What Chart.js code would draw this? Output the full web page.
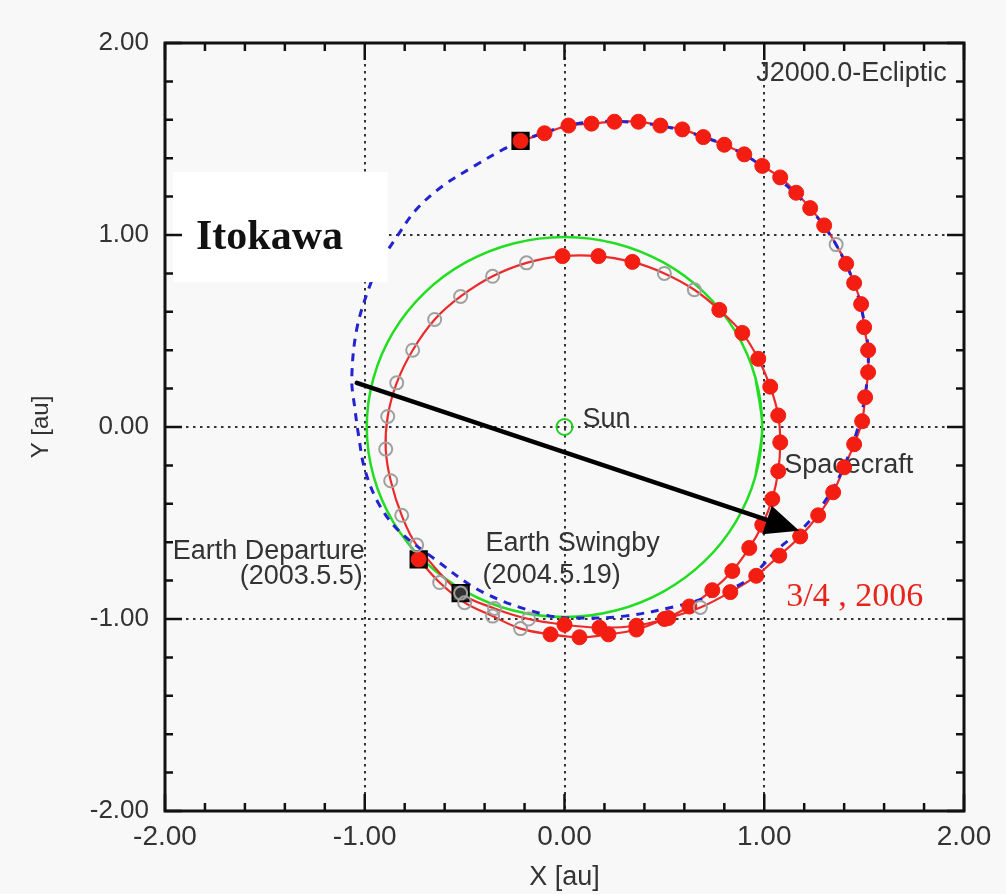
<!DOCTYPE html>
<html lang="en">
<head>
<meta charset="UTF-8">
<title>Itokawa transfer orbit</title>
<script src="https://cdn.jsdelivr.net/npm/chart.js@4.4.1/dist/chart.umd.min.js"></script>
<style>
  html, body { margin: 0; padding: 0; background: #f8f8f8; }
  #wrap { width: 1006px; height: 894px; }
</style>
</head>
<body>
<div id="wrap"><canvas id="orbitChart" width="1006" height="894"></canvas></div>
<script>
// spacecraft trajectory: departure -> 1st loop -> swingby -> 2nd loop -> Itokawa
const trajX = [
  -0.73, -0.625, -0.50, -0.36, -0.22, -0.07, 0.075, 0.22, 0.36, 0.50,
  0.625, 0.74, 0.84, 0.925, 0.99, 1.04, 1.07, 1.08, 1.07, 1.03,
  0.97, 0.89, 0.775, 0.65, 0.50, 0.34, 0.17, -0.01, -0.19, -0.36,
  -0.52, -0.65, -0.76, -0.84, -0.885, -0.895, -0.87, -0.815, -0.74, -0.52,
  -0.35, -0.18, 0.0, 0.175, 0.36, 0.52, 0.68, 0.83, 0.96, 1.075,
  1.18, 1.27, 1.345, 1.40, 1.45, 1.49, 1.505, 1.52, 1.52, 1.50,
  1.485, 1.45, 1.41, 1.36, 1.30, 1.23, 1.16, 1.08, 0.99, 0.90,
  0.80, 0.695, 0.59, 0.48, 0.37, 0.25, 0.135, 0.02, -0.10, -0.22
];
const trajY = [
  -0.69, -0.81, -0.915, -0.985, -1.05, -1.08, -1.095, -1.08, -1.055, -1.0,
  -0.935, -0.85, -0.75, -0.63, -0.51, -0.375, -0.23, -0.08, 0.06, 0.21,
  0.355, 0.49, 0.61, 0.715, 0.80, 0.86, 0.89, 0.89, 0.855, 0.785,
  0.68, 0.56, 0.40, 0.23, 0.055, -0.115, -0.28, -0.46, -0.615, -0.865,
  -0.945, -1.0, -1.03, -1.045, -1.035, -0.995, -0.94, -0.86, -0.775, -0.67,
  -0.57, -0.46, -0.34, -0.21, -0.09, 0.03, 0.155, 0.285, 0.40, 0.52,
  0.64, 0.75, 0.85, 0.95, 1.05, 1.14, 1.22, 1.30, 1.36, 1.42,
  1.47, 1.51, 1.55, 1.57, 1.59, 1.59, 1.58, 1.57, 1.53, 1.49
];
// 1 = filled red dot (thrusting), 0 = hollow grey dot
const trajThrust = [
  1, 0, 0, 0, 0, 1, 1, 1, 1, 1,
  1, 1, 1, 1, 1, 1, 1, 1, 1, 1,
  1, 1, 1, 0, 0, 1, 1, 1, 0, 0,
  0, 0, 0, 0, 0, 0, 0, 0, 0, 0,
  0, 0, 1, 1, 1, 1, 0, 1, 1, 1,
  1, 1, 1, 1, 1, 1, 1, 1, 1, 1,
  1, 1, 1, 0, 1, 1, 1, 1, 1, 1,
  1, 1, 1, 1, 1, 1, 1, 1, 1, 1
];

// Itokawa orbit (blue dashed)
const itoX = [
  -0.22, -0.30, -0.45, -0.61, -0.74, -0.84, -0.92, -0.975, -1.04, -1.065,
  -1.05, -1.03, -1.0, -0.93, -0.83, -0.66, -0.41, -0.09, 0.075, 0.30,
  0.575, 0.76, 0.91, 1.075, 1.17, 1.26, 1.35, 1.41, 1.47, 1.51,
  1.52, 1.49, 1.43, 1.33, 1.20, 1.05, 0.88, 0.70, 0.50, 0.30,
  0.10, -0.05, -0.22
];
const itoY = [
  1.49, 1.45, 1.36, 1.255, 1.135, 0.99, 0.86, 0.735, 0.51, 0.25,
  0.10, -0.05, -0.22, -0.40, -0.54, -0.68, -0.86, -0.98, -0.995, -0.985,
  -0.93, -0.87, -0.80, -0.63, -0.55, -0.45, -0.31, -0.18, 0.0, 0.2,
  0.4, 0.6, 0.8, 1.0, 1.17, 1.31, 1.43, 1.51, 1.565, 1.59,
  1.585, 1.55, 1.49
];

// Earth orbit (green), seam overlapped
const earthX = [0.956, 0.99, 0.956, 0.857, 0.70, 0.495, 0.256, 0, -0.256, -0.495, -0.70, -0.857, -0.956, -0.99,
  -0.956, -0.857, -0.70, -0.495, -0.256, 0, 0.256, 0.495, 0.70, 0.857, 0.956, 0.99, 0.956];
const earthY = [-0.256, 0, 0.256, 0.495, 0.70, 0.857, 0.956, 0.99, 0.956, 0.857, 0.70, 0.495, 0.256, 0,
  -0.256, -0.495, -0.70, -0.857, -0.956, -0.99, -0.956, -0.857, -0.70, -0.495, -0.256, 0, 0.256];

// Earth departure, Earth swingby, Itokawa arrival
const markerX = [-0.73, -0.52, -0.22];
const markerY = [-0.69, -0.865, 1.49];

const sunX = [0];
const sunY = [0];

// text notes (data coordinates)
const noteText = ['J2000.0-Ecliptic', 'Sun', 'Spacecraft', 'Earth Departure', '(2003.5.5)', 'Earth Swingby', '(2004.5.19)'];
const noteX = [0.96, 0.09, 1.10, -1.0, -1.01, -0.395, -0.41];
const noteY = [1.80, 0.0, -0.24, -0.6875, -0.82, -0.646, -0.8125];
const noteAlign = ['left', 'left', 'left', 'right', 'right', 'left', 'left'];

const arrowFrom = [-1.04, 0.23];
const arrowTo = [1.175, -0.54];

const toPoints = (xs, ys) => xs.map((v, i) => ({ x: v, y: ys[i] }));
const isMajor = v => Math.abs(v - Math.round(v)) < 1e-6;
const isInnerMajor = v => isMajor(v) && Math.abs(v) < 1.5;

const SANS = "'Liberation Sans', Arial, sans-serif";
const SERIF = "'Liberation Serif', 'Times New Roman', serif";
Chart.defaults.font.family = SANS;

const notesPlugin = {
    id: 'notes',
    beforeDatasetsDraw(chart) {
        const { ctx, scales: { x, y } } = chart;
        ctx.save();
        ctx.fillStyle = '#333';
        ctx.font = '27px ' + SANS;
        ctx.textBaseline = 'alphabetic';
        noteText.forEach((t, i) => {
            ctx.textAlign = noteAlign[i];
            ctx.fillText(t, x.getPixelForValue(noteX[i]), y.getPixelForValue(noteY[i]));
        });
        ctx.fillStyle = '#e8231c';
        ctx.font = '34px ' + SERIF;
        ctx.textAlign = 'left';
        ctx.fillText('3/4 , 2006', x.getPixelForValue(1.11), y.getPixelForValue(-0.93));
        ctx.restore();
    },
    afterDatasetsDraw(chart) {
        const { ctx, chartArea: a, scales: { x, y } } = chart;
        ctx.save();
        // white label box for Itokawa
        const bx0 = x.getPixelForValue(-1.96), bx1 = x.getPixelForValue(-0.885);
        const by0 = y.getPixelForValue(1.328), by1 = y.getPixelForValue(0.755);
        ctx.fillStyle = '#ffffff';
        ctx.fillRect(bx0, by0, bx1 - bx0, by1 - by0);
        ctx.fillStyle = '#111';
        ctx.font = 'bold 42px ' + SERIF;
        ctx.textAlign = 'left';
        ctx.fillText('Itokawa', x.getPixelForValue(-1.845), y.getPixelForValue(0.927));

        // arrow
        const x0 = x.getPixelForValue(arrowFrom[0]), y0 = y.getPixelForValue(arrowFrom[1]);
        const x1 = x.getPixelForValue(arrowTo[0]), y1 = y.getPixelForValue(arrowTo[1]);
        const ang = Math.atan2(y1 - y0, x1 - x0);
        const c = Math.cos(ang), s = Math.sin(ang);
        const headLen = 34, headHalf = 15;
        const bcx = x1 - headLen * c, bcy = y1 - headLen * s;
        ctx.strokeStyle = '#000';
        ctx.lineWidth = 4.5;
        ctx.lineCap = 'round';
        ctx.beginPath();
        ctx.moveTo(x0, y0);
        ctx.lineTo(bcx, bcy);
        ctx.stroke();
        ctx.fillStyle = '#000';
        ctx.beginPath();
        ctx.moveTo(x1, y1);
        ctx.lineTo(bcx - headHalf * s, bcy + headHalf * c);
        ctx.lineTo(bcx + headHalf * s, bcy - headHalf * c);
        ctx.closePath();
        ctx.fill();

        // frame with inward ticks on all sides
        ctx.strokeStyle = '#111';
        ctx.lineCap = 'butt';
        ctx.lineWidth = 2.5;
        ctx.beginPath();
        x.ticks.forEach(t => {
            const p = x.getPixelForValue(t.value);
            const len = isMajor(t.value) ? 17 : 8;
            ctx.moveTo(p, a.bottom); ctx.lineTo(p, a.bottom - len);
            ctx.moveTo(p, a.top); ctx.lineTo(p, a.top + len);
        });
        y.ticks.forEach(t => {
            const p = y.getPixelForValue(t.value);
            const len = isMajor(t.value) ? 17 : 8;
            ctx.moveTo(a.left, p); ctx.lineTo(a.left + len, p);
            ctx.moveTo(a.right, p); ctx.lineTo(a.right - len, p);
        });
        ctx.stroke();
        ctx.lineWidth = 3;
        ctx.strokeRect(a.left, a.top, a.right - a.left, a.bottom - a.top);
        ctx.restore();
    }
};

const ctx = document.getElementById('orbitChart').getContext('2d');
const orbitChart = new Chart(ctx, {
    type: 'scatter',
    data: {
        datasets: [
            {
                label: 'Sun',
                data: toPoints(sunX, sunY),
                pointRadius: 8,
                pointBorderWidth: 2,
                pointBorderColor: '#22cc22',
                pointBackgroundColor: 'rgba(0,0,0,0)',
                order: 0
            },
            {
                label: 'Spacecraft points',
                data: toPoints(trajX, trajY),
                showLine: false,
                pointRadius: trajThrust.map(f => f ? 7.5 : 6.5),
                pointBorderWidth: trajThrust.map(f => f ? 1 : 2),
                pointBorderColor: trajThrust.map(f => f ? '#f31d12' : '#a0a0a0'),
                pointBackgroundColor: trajThrust.map(f => f ? '#f31d12' : 'rgba(0,0,0,0)'),
                order: 1
            },
            {
                label: 'Events',
                data: toPoints(markerX, markerY),
                showLine: false,
                pointStyle: 'rect',
                pointRadius: 11.5,
                pointBorderWidth: 2,
                pointBorderColor: '#000',
                pointBackgroundColor: ['#111', '#333', '#111'],
                order: 2
            },
            {
                label: 'Itokawa orbit',
                data: toPoints(itoX, itoY),
                showLine: true,
                borderColor: '#2323cf',
                borderWidth: 3,
                borderDash: [8, 7],
                tension: 0.35,
                pointRadius: 0,
                order: 3
            },
            {
                label: 'Spacecraft',
                data: toPoints(trajX, trajY),
                showLine: true,
                borderColor: '#ec2a2a',
                borderWidth: 2.2,
                tension: 0.35,
                pointRadius: 0,
                order: 4
            },
            {
                label: 'Earth orbit',
                data: toPoints(earthX, earthY),
                showLine: true,
                borderColor: '#22dd22',
                borderWidth: 2.5,
                tension: 0.34,
                pointRadius: 0,
                order: 5
            }
        ]
    },
    options: {
        responsive: false,
        animation: false,
        devicePixelRatio: 1,
        layout: { padding: { left: 0, top: 43, right: 42, bottom: 0 } },
        plugins: {
            legend: { display: false },
            tooltip: { enabled: false }
        },
        scales: {
            x: {
                type: 'linear',
                min: -2,
                max: 2,
                afterFit: s => { s.height = 83; },
                ticks: {
                    stepSize: 0.2,
                    autoSkip: false,
                    maxRotation: 0,
                    padding: 9,
                    color: '#333',
                    font: { size: 28 },
                    callback: v => isMajor(v) ? Math.round(v).toFixed(2) : ''
                },
                grid: {
                    drawTicks: false,
                    lineWidth: 2,
                    color: c => (c.tick && isInnerMajor(c.tick.value)) ? '#333' : 'rgba(0,0,0,0)'
                },
                border: { display: false, dash: [2.5, 4.5] },
                title: {
                    display: true,
                    text: 'X [au]',
                    color: '#333',
                    font: { size: 27 },
                    padding: { top: 0, bottom: 0 }
                }
            },
            y: {
                type: 'linear',
                min: -2,
                max: 2,
                afterFit: s => { s.width = 165; },
                ticks: {
                    stepSize: 0.2,
                    autoSkip: false,
                    padding: 16,
                    color: '#333',
                    font: { size: 26 },
                    callback: v => isMajor(v) ? Math.round(v).toFixed(2) : ''
                },
                grid: {
                    drawTicks: false,
                    lineWidth: 2,
                    color: c => (c.tick && isInnerMajor(c.tick.value)) ? '#333' : 'rgba(0,0,0,0)'
                },
                border: { display: false, dash: [2.5, 4.5] },
                title: {
                    display: true,
                    text: 'Y [au]',
                    color: '#333',
                    font: { size: 24 },
                    padding: { top: 27, bottom: 0 }
                }
            }
        }
    },
    plugins: [notesPlugin]
});
</script>
</body>
</html>
